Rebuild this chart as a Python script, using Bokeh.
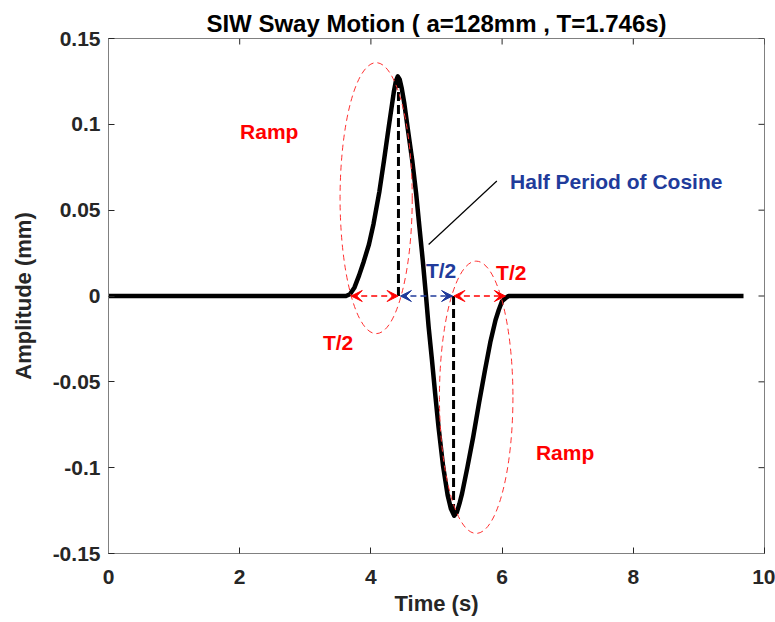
import math
from bokeh.plotting import figure
from bokeh.models import FixedTicker, Range1d, Arrow, VeeHead, Label
from bokeh.embed import file_html
from bokeh.resources import INLINE

# ---- data ----
time_s = [0.00, 3.62, 3.68, 3.75, 3.82, 3.89, 3.97, 4.04, 4.13, 4.20, 4.27,
          4.35, 4.38, 4.41, 4.44, 4.47, 4.51, 4.56, 4.63, 4.69, 4.74, 4.79,
          4.84, 4.88, 4.93, 4.98, 5.03, 5.10, 5.17, 5.22, 5.27, 5.31, 5.35,
          5.39, 5.47, 5.56, 5.65, 5.74, 5.82, 5.90, 5.95, 6.00, 6.06, 6.10, 9.68]
amplitude_mm = [0.000, 0.000, 0.001, 0.005, 0.012, 0.020, 0.030, 0.042, 0.061, 0.079, 0.098,
                0.119, 0.125, 0.128, 0.126, 0.121, 0.112, 0.098, 0.079, 0.0595, 0.040, 0.021,
                0.000, -0.018, -0.037, -0.057, -0.076, -0.099, -0.116, -0.124, -0.128, -0.126, -0.121,
                -0.115, -0.100, -0.082, -0.062, -0.043, -0.027, -0.014, -0.008, -0.003, -0.001, 0.000, 0.000]

x_ticks = [0, 2, 4, 6, 8, 10]
x_tick_labels = ["0", "2", "4", "6", "8", "10"]
y_ticks = [-0.15, -0.1, -0.05, 0, 0.05, 0.1, 0.15]
y_tick_labels = ["-0.15", "-0.1", "-0.05", "0", "0.05", "0.1", "0.15"]

# dashed verticals (peak / trough)
vline_time = [4.42, 5.26]
vline_amp = [0.128, -0.128]

# ramp ellipses
ellipse_x = [4.08, 5.605]
ellipse_y = [0.057, -0.059]
ellipse_w = [1.10, 1.12]
ellipse_h = [0.158, 0.1586]

# double arrows along zero line
arrow_start = [3.70, 4.45, 5.265]
arrow_end = [4.415, 5.245, 6.05]

# leader line to "Half Period of Cosine"
leader_x = [4.88, 5.92]
leader_y = [0.030, 0.067]

# annotation texts: (text, x, y)
red_texts = [("Ramp", 2.45, 0.096), ("Ramp", 6.96, -0.091),
             ("T/2", 6.14, 0.0137), ("T/2", 3.50, -0.027)]
blue_texts = [("Half Period of Cosine", 7.74, 0.0665), ("T/2", 5.07, 0.0148)]

FONT = "Liberation Sans"
RED = "#ff0000"
BLUE = "#213b9b"
AX = "#262626"
AXLINE = "#808080"

x_lo, x_hi = x_ticks[0], x_ticks[-1]
y_lo, y_hi = y_ticks[0], y_ticks[-1]

p = figure(width=775, height=622, x_range=Range1d(x_lo, x_hi), y_range=Range1d(y_lo, y_hi),
           output_backend="svg", toolbar_location=None,
           min_border_left=108, min_border_right=11, min_border_top=38, min_border_bottom=69,
           x_axis_label="Time (s)", y_axis_label="Amplitude (mm)")
p.xgrid.visible = False
p.ygrid.visible = False
p.outline_line_color = AXLINE
p.outline_line_width = 1
p.background_fill_color = "white"
p.border_fill_color = "white"

p.title.text = "SIW Sway Motion ( a=128mm , T=1.746s)"
p.title.align = "center"
p.title.text_font = FONT
p.title.text_font_size = "24px"
p.title.text_font_style = "bold"
p.title.text_color = "#000000"
p.title.standoff = 4

p.xaxis.ticker = FixedTicker(ticks=x_ticks)
p.xaxis.major_label_overrides = dict(zip(x_ticks, x_tick_labels))
p.yaxis.ticker = FixedTicker(ticks=y_ticks)
p.yaxis.major_label_overrides = dict(zip(y_ticks, y_tick_labels))

for ax in [p.xaxis[0], p.yaxis[0]]:
    ax.major_tick_in = 6
    ax.major_tick_out = 0
    ax.minor_tick_line_color = None
    ax.axis_line_color = AXLINE
    ax.major_tick_line_color = AX
    ax.major_label_text_font = FONT
    ax.major_label_text_font_size = "21px"
    ax.major_label_text_font_style = "bold"
    ax.major_label_text_color = AX
    ax.axis_label_text_font = FONT
    ax.axis_label_text_font_size = "22px"
    ax.axis_label_text_font_style = "bold"
    ax.axis_label_text_color = AX
p.xaxis.major_label_standoff = 16
p.xaxis.axis_label_standoff = 4
p.yaxis.major_label_standoff = 8
p.yaxis.axis_label_standoff = 14

# mirrored inward ticks on top and right edges (box on)
p.ray(x=x_ticks, y=[y_hi] * len(x_ticks), length=6, length_units="screen",
      angle=-math.pi / 2, line_color=AX, line_width=1)
p.ray(x=[x_hi] * len(y_ticks), y=y_ticks, length=6, length_units="screen",
      angle=math.pi, line_color=AX, line_width=1)

# main motion curve
p.line(time_s, amplitude_mm, line_color="black", line_width=4.5, line_join="round")

# dashed verticals
p.segment(x0=vline_time, y0=[0, 0], x1=vline_time, y1=vline_amp,
          line_color="black", line_width=3, line_dash="9 4")

# ellipses
p.ellipse(x=ellipse_x, y=ellipse_y, width=ellipse_w, height=ellipse_h,
          fill_color=None, line_color="#ff3030", line_width=1, line_dash="6 4")

# arrows
arrow_colors = [RED, BLUE, RED]
for xs, xe, c in zip(arrow_start, arrow_end, arrow_colors):
    p.add_layout(Arrow(x_start=xs, y_start=0, x_end=xe, y_end=0,
                       line_color=c, line_width=1.5, line_dash="6 4",
                       start=VeeHead(size=11, fill_color=c, line_color=c, line_width=1),
                       end=VeeHead(size=11, fill_color=c, line_color=c, line_width=1)))

# leader line
p.line(leader_x, leader_y, line_color="black", line_width=1.2)

for txt, x, y in red_texts:
    p.add_layout(Label(x=x, y=y, text=txt, text_align="center", text_baseline="alphabetic",
                       text_font=FONT, text_font_size="21px", text_font_style="bold",
                       text_color=RED))
for txt, x, y in blue_texts:
    p.add_layout(Label(x=x, y=y, text=txt, text_align="center", text_baseline="alphabetic",
                       text_font=FONT, text_font_size="21px", text_font_style="bold",
                       text_color=BLUE))

open("out.html", "w").write(file_html(p, INLINE))
